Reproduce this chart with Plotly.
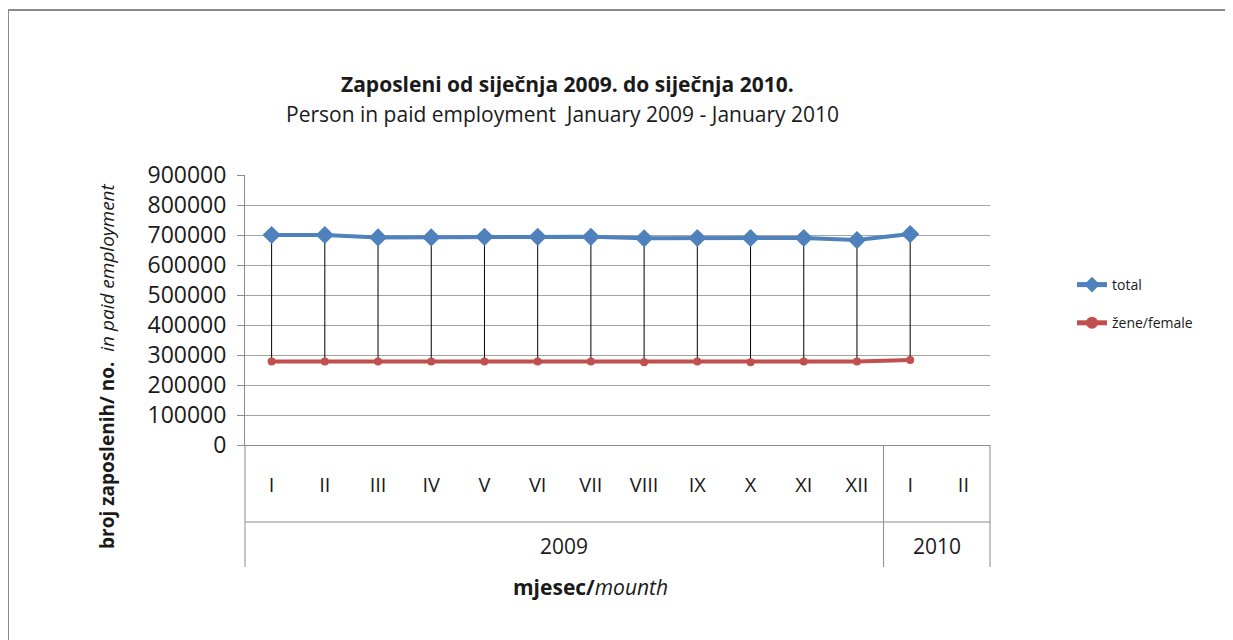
import plotly.graph_objects as go

# ---- data ----
months = ["I", "II", "III", "IV", "V", "VI", "VII", "VIII", "IX", "X", "XI", "XII", "I", "II"]
years = ["2009", "2010"]
year_spans = [(0, 11), (12, 13)]          # month-slot index range for each year
total = [700000, 700000, 692000, 692000, 694000, 694000, 694000, 689000, 690000, 690000, 690000, 683000, 703000]
female = [278000, 278000, 278000, 278000, 278000, 278000, 278000, 276000, 278000, 276000, 278000, 278000, 283000]
y_ticks = [0, 100000, 200000, 300000, 400000, 500000, 600000, 700000, 800000, 900000]

FONT = "Open Sans"
TXT = "#1a1a1a"
GRID = "#A3A3A3"
AXIS = "#8C8C8C"

W, H = 1233, 640
OFF = 8                                   # page body margin
L, R, T, B = 245 - OFF, 990 - OFF, 175 - OFF, 445 - OFF   # plot area in figure px
pw, ph = R - L, B - T


def px_x(px):       # reference page px -> paper
    return (px - OFF - L) / pw


def px_y(py):
    return (B - (py - OFF)) / ph


xs = list(range(len(total)))

fig = go.Figure()

# drop lines between the two series
dx, dy = [], []
for i, (t, f) in enumerate(zip(total, female)):
    dx += [xs[i], xs[i], None]
    dy += [t, f, None]
fig.add_trace(go.Scatter(x=dx, y=dy, mode="lines", line=dict(color="black", width=1),
                         showlegend=False, hoverinfo="skip"))

fig.add_trace(go.Scatter(x=xs, y=total, name="total", mode="lines+markers",
                         line=dict(color="#4F81BD", width=4),
                         marker=dict(symbol="diamond", size=14, color="#4F81BD"),
                         legendgroup="a"))
fig.add_trace(go.Scatter(x=xs, y=female, name="žene/female", mode="lines+markers",
                         line=dict(color="#C0504D", width=4),
                         marker=dict(symbol="circle", size=8, color="#C0504D"),
                         legendgroup="b"))

fig.update_layout(
    width=W, height=H,
    margin=dict(l=L, r=W - R, t=T, b=H - B),
    paper_bgcolor="white", plot_bgcolor="white",
    font=dict(family=FONT, color=TXT),
    showlegend=True,
    legend=dict(x=px_x(1072), y=px_y(269), xanchor="left", yanchor="top",
                font=dict(size=14, family=FONT, color=TXT),
                tracegroupgap=17, itemsizing="constant", bgcolor="rgba(0,0,0,0)"),
    xaxis=dict(range=[-0.5, len(months) - 0.5], tickvals=list(range(len(months))), ticktext=months,
               showgrid=False, zeroline=False, showline=True, linecolor=AXIS, linewidth=1,
               ticks="", ticklabelstandoff=22, tickfont=dict(size=20, family=FONT, color=TXT)),
    yaxis=dict(range=[0, 900000], tickvals=y_ticks, ticktext=[str(v) for v in y_ticks],
               showgrid=True, gridcolor=GRID, gridwidth=1, zeroline=False,
               showline=True, linecolor=AXIS, linewidth=1,
               ticks="outside", ticklen=7, tickcolor=AXIS, ticklabelstandoff=6,
               tickfont=dict(size=23, family=FONT, color=TXT)),
)

shapes = []
low = px_y(567)
# y-axis extension down through category area
shapes.append(dict(type="line", xref="paper", yref="paper", x0=0, x1=0, y0=0, y1=low,
                   line=dict(color=AXIS, width=1)))
# right border of category area
shapes.append(dict(type="line", xref="paper", yref="paper", x0=1, x1=1, y0=0, y1=low,
                   line=dict(color=AXIS, width=1)))
# horizontal separator between month row and year row
shapes.append(dict(type="line", xref="paper", yref="paper", x0=0, x1=1, y0=px_y(522), y1=px_y(522),
                   line=dict(color=AXIS, width=1)))
# year group dividers
for (a, b) in year_spans[:-1]:
    shapes.append(dict(type="line", xref="x", yref="paper", x0=b + 0.5, x1=b + 0.5, y0=0, y1=low,
                       line=dict(color=AXIS, width=1)))
# outer frame
shapes.append(dict(type="rect", xref="paper", yref="paper", x0=px_x(8), x1=px_x(1260),
                   y0=px_y(670), y1=px_y(10), line=dict(color="#8A8A8A", width=2),
                   fillcolor="rgba(0,0,0,0)", layer="below"))
fig.update_layout(shapes=shapes)

ann = []
for yr, (a, b) in zip(years, year_spans):
    ann.append(dict(x=(a + b) / 2, y=px_y(546), xref="x", yref="paper", text=yr, showarrow=False,
                    font=dict(size=21, family=FONT, color=TXT), xanchor="center", yanchor="middle"))
ann.append(dict(x=px_x(567), y=px_y(84), xref="paper", yref="paper",
                text="<b>Zaposleni od siječnja 2009. do siječnja 2010.</b>", showarrow=False,
                font=dict(size=21, family=FONT, color=TXT), xanchor="center", yanchor="middle"))
ann.append(dict(x=px_x(562), y=px_y(114), xref="paper", yref="paper",
                text="Person in paid employment  January 2009 - January 2010", showarrow=False,
                font=dict(size=21, family=FONT, color=TXT), xanchor="center", yanchor="middle"))
ann.append(dict(x=px_x(107), y=px_y(366), xref="paper", yref="paper",
                text="<b>broj zaposlenih/ no.</b>  <i>in paid employment</i>", showarrow=False, textangle=-90,
                font=dict(size=19, family=FONT, color=TXT), xanchor="center", yanchor="middle"))
ann.append(dict(x=px_x(590), y=px_y(587), xref="paper", yref="paper",
                text="<b>mjesec/</b><i>mounth</i>", showarrow=False,
                font=dict(size=21, family=FONT, color=TXT), xanchor="center", yanchor="middle"))
fig.update_layout(annotations=ann)

fig.write_html("out.html")
